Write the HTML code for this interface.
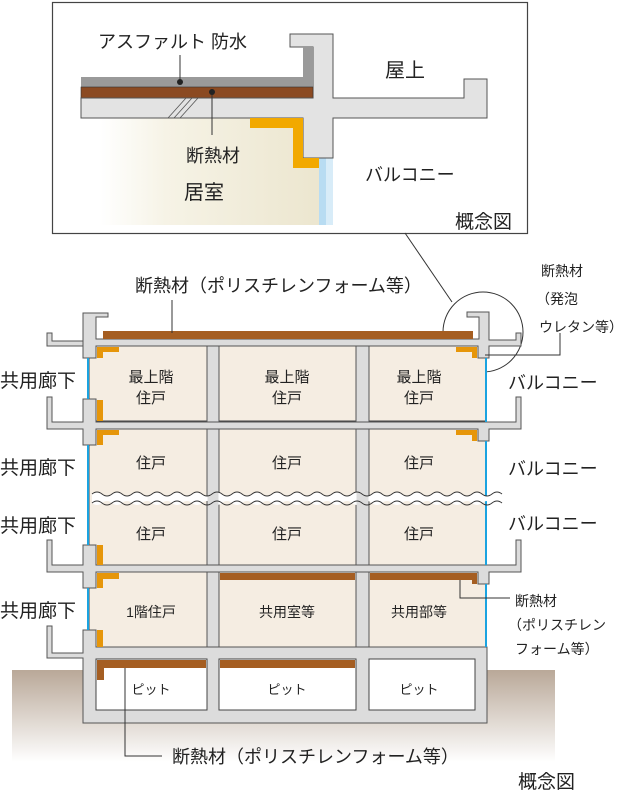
<!DOCTYPE html>
<html><head><meta charset="utf-8"><style>
html,body{margin:0;padding:0;background:#fff;}
svg{display:block;}
text{font-family:"Liberation Sans","Noto Sans CJK JP",sans-serif;fill:#222;}
</style></head><body>
<svg width="618" height="794" viewBox="0 0 618 794" xmlns="http://www.w3.org/2000/svg">
<defs>
<linearGradient id="room" x1="0" x2="1" y1="0" y2="0">
<stop offset="0" stop-color="#fff"/><stop offset="0.3" stop-color="#f6f3e6"/><stop offset="1" stop-color="#ece6cf"/>
</linearGradient>
<linearGradient id="ground" x1="0" x2="0" y1="0" y2="1">
<stop offset="0" stop-color="#b9a898"/><stop offset="1" stop-color="#fff"/>
</linearGradient>
</defs>

<!-- Top detail box -->
<rect x="52.5" y="2.5" width="475" height="231" fill="#fff" stroke="#444" stroke-width="1.2"/>
<rect x="100" y="118" width="219" height="107" fill="url(#room)"/>
<rect x="319" y="158" width="14" height="67" fill="#b8dcf2"/>
<rect x="326" y="158" width="7" height="67" fill="#d8ecf8"/>
<polygon points="290,34 333,34 333,98 464,98 464,79 487,79 487,118 333,118 333,158 303,158 303,118 81,118 81,98 313,98 313,47 290,47" fill="#e3e3e3" stroke="#555" stroke-width="1"/>
<rect x="81" y="77" width="232" height="10" fill="#9a9a9a"/>
<rect x="303" y="47" width="10" height="40" fill="#9a9a9a"/>
<rect x="81" y="87" width="232" height="11" fill="#8b4a22" stroke="#333" stroke-width="0.6"/>
<line x1="81" y1="98" x2="313" y2="98" stroke="#555"/>
<line x1="168" y1="118" x2="186" y2="98" stroke="#555" stroke-width="0.8"/>
<line x1="174" y1="118" x2="192" y2="98" stroke="#555" stroke-width="0.8"/>
<line x1="180" y1="118" x2="198" y2="98" stroke="#555" stroke-width="0.8"/>
<polygon points="250,118 303,118 303,158 319,158 319,168 293,168 293,128 250,128" fill="#f2a900"/>
<line x1="180" y1="55" x2="180" y2="82" stroke="#333"/>
<circle cx="180" cy="82" r="3" fill="#222"/>
<line x1="212" y1="92" x2="212" y2="135" stroke="#333"/>
<circle cx="212" cy="92" r="3" fill="#222"/>
<text x="98" y="48" font-size="18">アスファルト 防水</text>
<text x="186" y="162" font-size="18">断熱材</text>
<text x="184" y="199" font-size="20">居室</text>
<text x="385" y="77" font-size="20">屋上</text>
<text x="365" y="181" font-size="18">バルコニー</text>
<text x="455" y="228" font-size="19">概念図</text>

<!-- connector to circle -->
<line x1="405" y1="233" x2="452" y2="302" stroke="#333"/>
<circle cx="483" cy="332" r="40" fill="none" stroke="#333" stroke-width="1"/>

<!-- ground -->
<rect x="12" y="670" width="543" height="92" fill="url(#ground)"/>

<!-- rooms -->
<g fill="#f5ede2" stroke="#444" stroke-width="1">
<rect x="89" y="346" width="118" height="75"/><rect x="219" y="346" width="137" height="75"/><rect x="369" y="346" width="117" height="75"/>
<rect x="89" y="428" width="118" height="137"/><rect x="219" y="428" width="137" height="137"/><rect x="369" y="428" width="117" height="137"/>
<rect x="89" y="572" width="118" height="75"/><rect x="219" y="572" width="137" height="75"/><rect x="369" y="572" width="117" height="75"/>
</g>

<!-- concrete: slabs, walls, foundation -->
<g fill="#dcdcdc" stroke="#555" stroke-width="1">
<rect x="207" y="346" width="12" height="301"/>
<rect x="356" y="346" width="13" height="301"/>
<polygon points="83,313 108,313 108,317 96,317 96,339 479,339 479,317 467,317 467,312 489,312 489,340 516,340 516,333 521,333 521,346 489,346 489,358 478,358 478,346 96,346 96,358 83,358"/>
<polygon points="47,333 52,333 52,341 83,341 83,346 47,346"/>
<polygon points="47,397 52,397 52,422 83,422 83,399 96,399 96,422 487,422 516,422 516,397 521,397 521,429 489,429 489,441 478,441 478,429 96,429 96,445 83,445 83,429 47,429"/>
<polygon points="47,540 52,540 52,565 83,565 83,545 96,545 96,565 487,565 516,565 516,540 521,540 521,572 489,572 489,584 478,584 478,572 96,572 96,588 83,588 83,572 47,572"/>
<polygon points="47,626 52,626 52,653 83,653 83,630 96,630 96,647 487,647 487,723 83,723 83,658 47,658"/>
</g>
<g fill="#fff" stroke="#444" stroke-width="1">
<rect x="96" y="659" width="111" height="51"/><rect x="219" y="659" width="137" height="51"/><rect x="369" y="659" width="106" height="51"/>
</g>

<!-- blue glazing lines -->
<g stroke="#1aa3e0" stroke-width="2">
<line x1="88" y1="358" x2="88" y2="399"/>
<line x1="88" y1="445" x2="88" y2="545"/>
<line x1="88" y1="588" x2="88" y2="630"/>
<line x1="486" y1="358" x2="486" y2="422"/>
<line x1="486" y1="441" x2="486" y2="565"/>
<line x1="486" y1="584" x2="486" y2="647"/>
</g>

<!-- orange insulation -->
<g fill="#e6960a">
<polygon points="97,347 119,347 119,352 103,352 103,358 97,358"/>
<rect x="97" y="400" width="6" height="21"/>
<polygon points="97,430 119,430 119,435 103,435 103,445 97,445"/>
<rect x="97" y="545" width="6" height="20"/>
<polygon points="97,573 119,573 119,579 103,579 103,588 97,588"/>
<rect x="97" y="630" width="6" height="17"/>
<polygon points="456,347 477,347 477,358 472,358 472,352 456,352"/>
<polygon points="456,430 477,430 477,441 472,441 472,435 456,435"/>
</g>

<!-- brown insulation -->
<g fill="#a55e22">
<rect x="103" y="331" width="370" height="8"/>
<rect x="220" y="573" width="135" height="7"/>
<polygon points="370,573 477,573 477,584 472,584 472,580 370,580"/>
<polygon points="97,660 206,660 206,668 104,668 104,680 97,680"/>
<rect x="220" y="660" width="135" height="8"/>
</g>

<!-- wave break -->
<g>
<path d="M92,494 q5,-4 10,0 t10,0 t10,0 t10,0 t10,0 t10,0 t10,0 t10,0 t10,0 t10,0 t10,0 t10,0 t10,0 t10,0 t10,0 t10,0 t10,0 t10,0 t10,0 t10,0 t10,0 t10,0 t10,0 t10,0 t10,0 t10,0 t10,0 t10,0 t10,0 t10,0 t10,0 t10,0 t10,0 t10,0 t10,0 t10,0 t10,0 t10,0 t10,0 t10,0 t10,0 L502,503 q-5,4 -10,0 t-10,0 t-10,0 t-10,0 t-10,0 t-10,0 t-10,0 t-10,0 t-10,0 t-10,0 t-10,0 t-10,0 t-10,0 t-10,0 t-10,0 t-10,0 t-10,0 t-10,0 t-10,0 t-10,0 t-10,0 t-10,0 t-10,0 t-10,0 t-10,0 t-10,0 t-10,0 t-10,0 t-10,0 t-10,0 t-10,0 t-10,0 t-10,0 t-10,0 t-10,0 t-10,0 t-10,0 t-10,0 t-10,0 t-10,0 t-10,0 Z" fill="#fff"/>
<rect x="207.5" y="488" width="11" height="22" fill="#dcdcdc"/>
<rect x="356.5" y="488" width="12" height="22" fill="#dcdcdc"/>
<path d="M92,494 q5,-4 10,0 t10,0 t10,0 t10,0 t10,0 t10,0 t10,0 t10,0 t10,0 t10,0 t10,0 t10,0 t10,0 t10,0 t10,0 t10,0 t10,0 t10,0 t10,0 t10,0 t10,0 t10,0 t10,0 t10,0 t10,0 t10,0 t10,0 t10,0 t10,0 t10,0 t10,0 t10,0 t10,0 t10,0 t10,0 t10,0 t10,0 t10,0 t10,0 t10,0 t10,0" fill="none" stroke="#333" stroke-width="1"/>
<path d="M92,503 q5,-4 10,0 t10,0 t10,0 t10,0 t10,0 t10,0 t10,0 t10,0 t10,0 t10,0 t10,0 t10,0 t10,0 t10,0 t10,0 t10,0 t10,0 t10,0 t10,0 t10,0 t10,0 t10,0 t10,0 t10,0 t10,0 t10,0 t10,0 t10,0 t10,0 t10,0 t10,0 t10,0 t10,0 t10,0 t10,0 t10,0 t10,0 t10,0 t10,0 t10,0 t10,0" fill="none" stroke="#333" stroke-width="1"/>
</g>

<!-- leader lines -->
<g stroke="#333" fill="none" stroke-width="1">
<line x1="172" y1="300" x2="172" y2="333"/>
<polyline points="560,333 560,355 485,355"/>
<polyline points="460,580 460,598 510,598"/>
<polyline points="125,668 125,756 162,756"/>
</g>

<!-- labels -->
<g font-size="18">
<text x="135" y="292">断熱材（ポリスチレンフォーム等）</text>
<text x="0" y="387" font-size="19">共用廊下</text>
<text x="0" y="474" font-size="19">共用廊下</text>
<text x="0" y="532" font-size="19">共用廊下</text>
<text x="0" y="617" font-size="19">共用廊下</text>
<text x="508" y="389">バルコニー</text>
<text x="508" y="475">バルコニー</text>
<text x="508" y="530">バルコニー</text>
<text x="172" y="763">断熱材（ポリスチレンフォーム等）</text>
<text x="518" y="788" font-size="19">概念図</text>
</g>
<g font-size="14">
<text x="541" y="276">断熱材</text>
<text x="536" y="304">（発泡</text>
<text x="539" y="332">ウレタン等）</text>
<text x="515" y="606">断熱材</text>
<text x="508" y="630">（ポリスチレン</text>
<text x="515" y="654">フォーム等）</text>
</g>
<g font-size="15" text-anchor="middle">
<text x="151" y="382">最上階</text><text x="151" y="403">住戸</text>
<text x="287" y="382">最上階</text><text x="287" y="403">住戸</text>
<text x="419" y="382">最上階</text><text x="419" y="403">住戸</text>
<text x="151" y="468">住戸</text><text x="287" y="468">住戸</text><text x="419" y="468">住戸</text>
<text x="151" y="539">住戸</text><text x="287" y="539">住戸</text><text x="419" y="539">住戸</text>
<text x="151" y="617" font-size="14">1階住戸</text>
<text x="287" y="617" font-size="14">共用室等</text>
<text x="419" y="617" font-size="14">共用部等</text>
<text x="151" y="694" font-size="13">ピット</text>
<text x="287" y="694" font-size="13">ピット</text>
<text x="419" y="694" font-size="13">ピット</text>
</g>
</svg>
</body></html>
